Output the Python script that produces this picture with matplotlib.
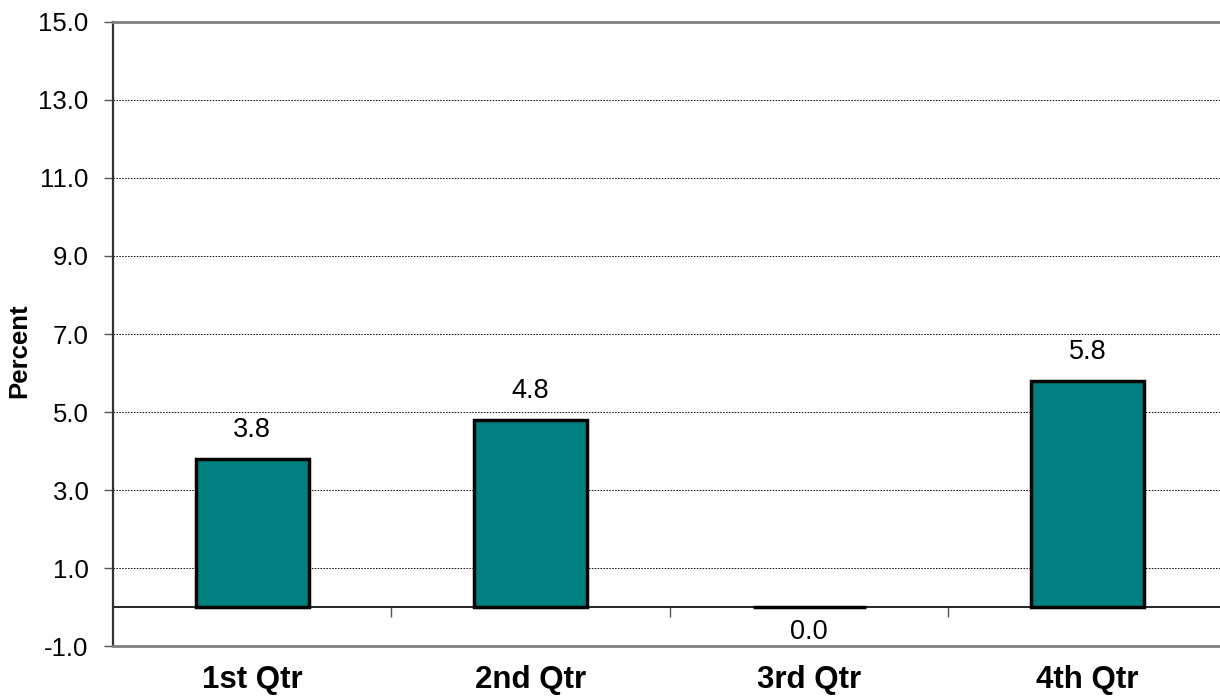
import matplotlib.pyplot as plt

plt.rcParams['font.family'] = ['Liberation Sans', 'DejaVu Sans']

# quarterly values (percent)
quarters = ["1st Qtr", "2nd Qtr", "3rd Qtr", "4th Qtr"]
values = [3.8, 4.8, 0.0, 5.8]
y_ticks = [-1.0, 1.0, 3.0, 5.0, 7.0, 9.0, 11.0, 13.0, 15.0]

fig = plt.figure(figsize=(12.2, 7), dpi=100)
ax = fig.add_axes([0.0926, 0.0771, 0.913, 0.8915])

x = range(len(quarters))
ax.bar(x, values, width=0.405, color="#008080", edgecolor="black", linewidth=2.5, zorder=3)

for xi, v in zip(x, values):
    if v > 0:
        ax.text(xi, v + 0.4, f"{v:.1f}", ha="center", va="bottom", fontsize=19.5)
    else:
        ax.text(xi, v - 0.3, f"{v:.1f}", ha="center", va="top", fontsize=19.5)

ax.set_xlim(-0.5, len(quarters) - 0.5)
ax.set_ylim(-1, 15)
ax.set_yticks(y_ticks)
ax.set_yticklabels([f"{t:.1f}" for t in y_ticks], fontsize=18.5)
ax.yaxis.grid(True, linestyle=(0, (1.5, 1.5)), color="black", linewidth=0.7)
ax.set_axisbelow(True)
ax.tick_params(axis="y", direction="out", length=6.5, width=1, color="#555555", pad=11)

ax.set_xticks(list(x))
ax.set_xticklabels(quarters, fontsize=22.5, fontweight="bold")
ax.tick_params(axis="x", length=0, pad=14)

ax.set_ylabel("Percent", fontsize=18.5, fontweight="bold")
ax.yaxis.set_label_coords(-0.073, 0.474)

# zero line with category separators
zero_pos = (0 - (-1)) / 16
zax = ax.secondary_xaxis(zero_pos)
zax.set_xticks([0.5, 1.5, 2.5])
zax.set_xticklabels([])
zax.tick_params(direction="out", length=7, width=1, color="#555555")
zax.spines["bottom"].set_color("black")
zax.spines["bottom"].set_linewidth(1.2)

ax.spines["right"].set_visible(False)
ax.spines["top"].set_color("#808080")
ax.spines["top"].set_linewidth(2)
ax.spines["bottom"].set_color("#808080")
ax.spines["bottom"].set_linewidth(2)
ax.spines["left"].set_color("#333333")
ax.spines["left"].set_linewidth(1.6)

fig.savefig("out.png", dpi=100)
